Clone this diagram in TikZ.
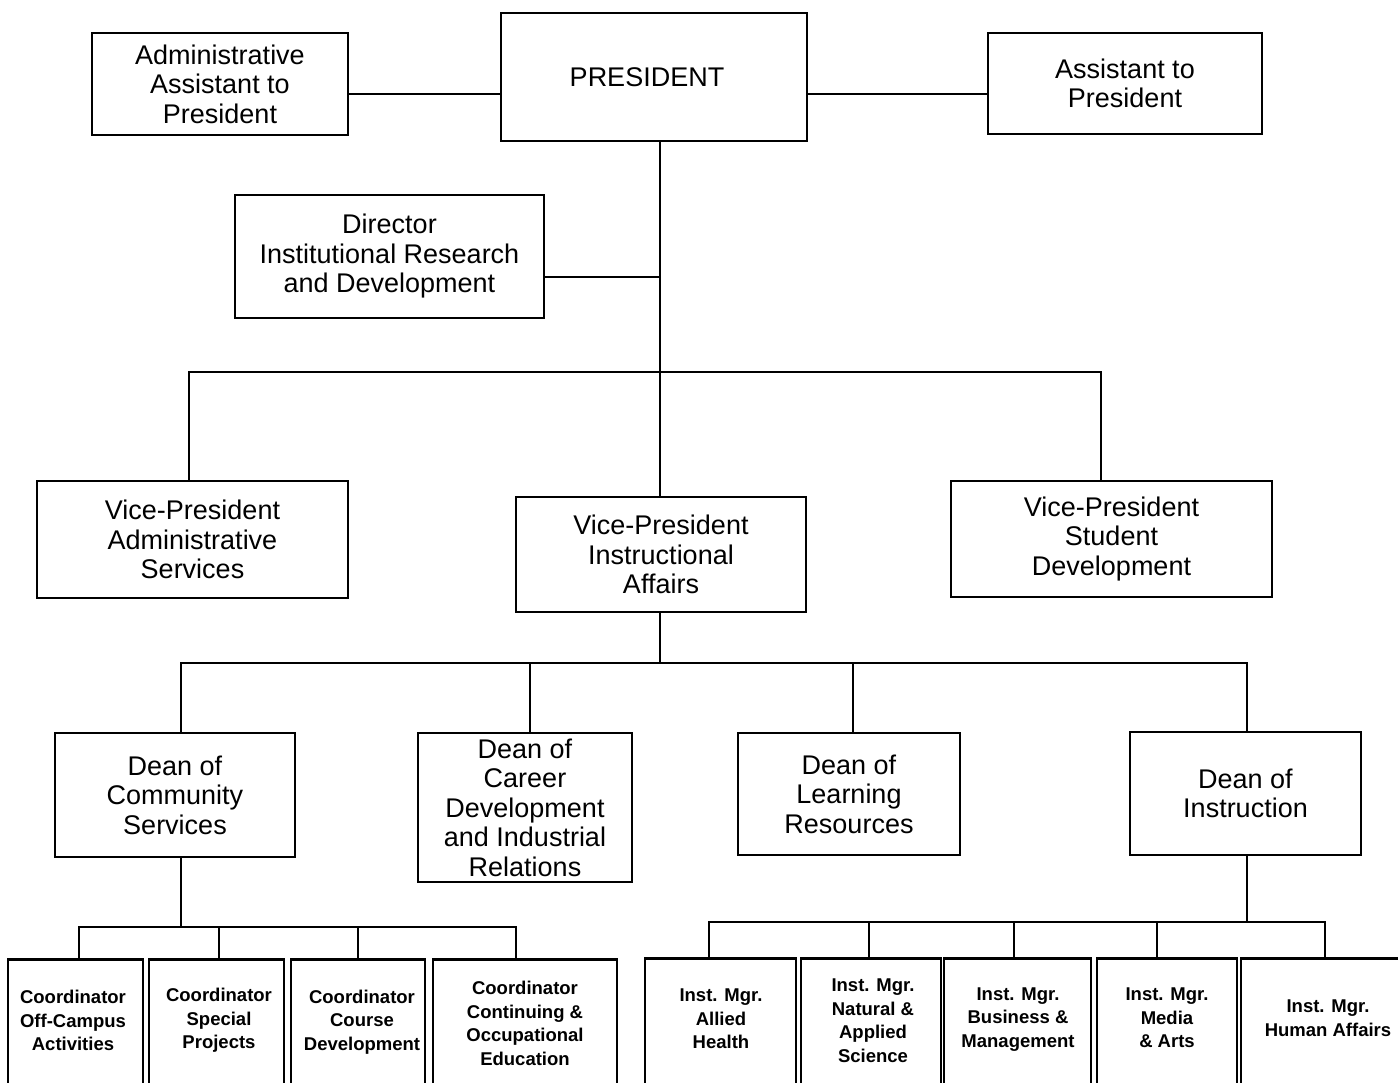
\documentclass[tikz,border=0pt]{standalone}
\usepackage{fontspec}
\setmainfont{Liberation Sans}
\begin{document}
\begin{tikzpicture}[x=1pt,y=-1pt,
  line width=2.6pt, line cap=rect, line join=miter,
  box/.style={draw, inner sep=0pt, align=center,
    font=\fontsize{27}{29.5}\selectfont},
  lowbox/.style={draw, inner sep=0pt, anchor=north, minimum height=150pt},
  lowtext/.style={inner sep=0pt, align=center,
    font=\bfseries\fontsize{18.5}{23.5}\selectfont},
  link/.style={line width=2.6pt}]
\useasboundingbox (0,0) rectangle (1398,1082);
\fill[white] (0,0) rectangle (1398,1082);

% --- top level ---
\node[box, minimum width=306pt, minimum height=128pt] (pres) at (654,77)
  {\hspace*{-14pt}PRESIDENT};
\node[box, minimum width=256pt, minimum height=102pt] (admin) at (220,84)
  {Administrative\\Assistant to\\President};
\node[box, minimum width=274pt, minimum height=101pt] (asst) at (1125,83.5)
  {Assistant to\\President};
\node[box, minimum width=309pt, minimum height=123pt] (dir) at (389.5,256.5)
  {Director\\Institutional Research\\and Development};

% --- vice-presidents ---
\node[box, minimum width=311pt, minimum height=117pt] (vpa) at (192.5,539.5)
  {Vice-President\\Administrative\\Services};
\node[box, minimum width=290pt, minimum height=115pt] (vpi) at (661,554.5)
  {Vice-President\\Instructional\\Affairs};
\node[box, minimum width=321pt, minimum height=116pt] (vps) at (1111.5,539)
  {Vice-President\\Student\\Development};

% --- deans ---
\node[box, minimum width=240pt, minimum height=124pt] (dcs) at (175,795)
  {Dean of\\Community\\Services};
\node[box, minimum width=214pt, minimum height=149pt] (dcr) at (525,807.5)
  {Dean of\\Career\\Development\\and Industrial\\Relations};
\node[box, minimum width=222pt, minimum height=122pt] (dlr) at (849,794)
  {Dean of\\Learning\\Resources};
\node[box, minimum width=231pt, minimum height=123pt] (din) at (1245.5,793.5)
  {Dean of\\Instruction};

% --- coordinators under Community Services ---
\node[lowbox, minimum width=135pt] (c1) at (75.5,958) {};
\node[lowbox, minimum width=135pt] (c2) at (216.5,958) {};
\node[lowbox, minimum width=134pt] (c3) at (358,958) {};
\node[lowbox, minimum width=184pt] (c4) at (525,958) {};
\node[lowtext] (c1t) at (73,1020.5) {Coordinator\\Off-Campus\\Activities};
\node[lowtext] (c2t) at (219,1020.5) {Coordinator\\Special\\Projects};
\node[lowtext] (c3t) at (362,1022) {Coordinator\\Course\\Development};
\node[lowtext] (c4t) at (525,1023.5) {Coordinator\\Continuing \&\\Occupational\\Education};

% --- instructional managers under Instruction ---
\node[lowbox, minimum width=151pt] (m1) at (720.5,957) {};
\node[lowbox, minimum width=140pt] (m2) at (871,957) {};
\node[lowbox, minimum width=147pt] (m3) at (1017.5,957) {};
\node[lowbox, minimum width=140pt] (m4) at (1167,957) {};
\node[lowbox, minimum width=169pt] (m5) at (1325.5,957) {};
\node[lowtext] (m1t) at (721,1019) {Inst. Mgr.\\Allied\\Health};
\node[lowtext] (m2t) at (873,1020.5) {Inst. Mgr.\\Natural \&\\Applied\\Science};
\node[lowtext] (m3t) at (1018,1019.5) {Inst. Mgr.\\Business \&\\Management};
\node[lowtext] (m4t) at (1167,1018) {Inst. Mgr.\\Media\\\& Arts};
\node[lowtext] (m5t) at (1328,1018) {Inst. Mgr.\\Human Affairs};

% --- junction points of the connector buses ---
\coordinate (staff) at (660,94);
\coordinate (resbus) at (660,277);
\coordinate (vpbus) at (660,372);
\coordinate (deanbus) at (660,663);
\coordinate (coordbus) at (181,927);
\coordinate (mgrbus) at (1247,922);

% --- connectors ---
\draw[link] (admin.east |- staff) -- (pres.west |- staff);
\draw[link] (pres.east |- staff) -- (asst.west |- staff);
\draw[link] (pres.south -| vpbus) -- (vpi.north -| vpbus);
\draw[link] (dir.east |- resbus) -- (resbus);
\draw[link] ([xshift=-3.5pt]vpa.north) |- (vpbus) -| ([xshift=-10.5pt]vps.north);

\draw[link] (vpi.south -| deanbus) -- (deanbus);
\draw[link] ([xshift=6pt]dcs.north) |- (deanbus) -| ([xshift=1.5pt]din.north);
\draw[link] ([xshift=5pt]dcr.north) -- ([xshift=5pt]dcr.north |- deanbus);
\draw[link] ([xshift=4pt]dlr.north) -- ([xshift=4pt]dlr.north |- deanbus);

\draw[link] (dcs.south -| coordbus) -- (coordbus);
\draw[link] ([xshift=3.5pt]c1.north) |- (coordbus) -| ([xshift=-9pt]c4.north);
\draw[link] ([xshift=2.5pt]c2.north) -- ([xshift=2.5pt]c2.north |- coordbus);
\draw[link] (c3.north) -- (c3.north |- coordbus);

\draw[link] (din.south -| mgrbus) -- (mgrbus);
\draw[link] ([xshift=-11.5pt]m1.north) |- (mgrbus) -| ([xshift=-0.5pt]m5.north);
\draw[link] ([xshift=-2pt]m2.north) -- ([xshift=-2pt]m2.north |- mgrbus);
\draw[link] ([xshift=-3.5pt]m3.north) -- ([xshift=-3.5pt]m3.north |- mgrbus);
\draw[link] ([xshift=-10pt]m4.north) -- ([xshift=-10pt]m4.north |- mgrbus);
\end{tikzpicture}
\end{document}
